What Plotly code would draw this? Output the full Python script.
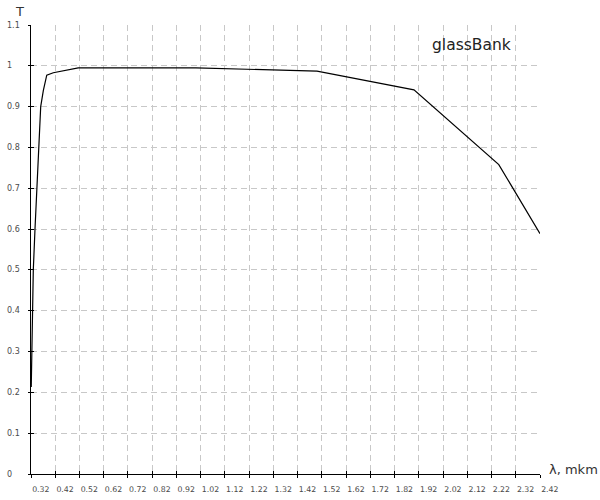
import plotly.graph_objects as go

# Data
wavelength = [0.321, 0.323, 0.325, 0.3295, 0.3365, 0.3435, 0.350, 0.360, 0.371, 0.385, 0.412,
              0.515, 1.0, 1.2, 1.4, 1.5, 1.9, 2.25, 2.42]
transmission = [0.213, 0.31, 0.40, 0.50, 0.60, 0.70, 0.80, 0.90, 0.94, 0.977, 0.983,
                 0.995, 0.995, 0.992, 0.989, 0.987, 0.941, 0.758, 0.589]

x_ticks = [0.32, 0.42, 0.52, 0.62, 0.72, 0.82, 0.92, 1.02, 1.12, 1.22, 1.32, 1.42,
           1.52, 1.62, 1.72, 1.82, 1.92, 2.02, 2.12, 2.22, 2.32, 2.42]
x_tick_labels = ["0.32", "0.42", "0.52", "0.62", "0.72", "0.82", "0.92", "1.02", "1.12", "1.22",
                 "1.32", "1.42", "1.52", "1.62", "1.72", "1.82", "1.92", "2.02", "2.12", "2.22",
                 "2.32", "2.42"]
y_ticks = [0, 0.1, 0.2, 0.3, 0.4, 0.5, 0.6, 0.7, 0.8, 0.9, 1.0, 1.1]
y_tick_labels = ["0", "0.1", "0.2", "0.3", "0.4", "0.5", "0.6", "0.7", "0.8", "0.9", "1", "1.1"]

title_text = "glassBank"
x_title = "λ, mkm"
y_title = "T"

W, H = 600, 500
L, R, T_M, B = 31, 60, 25, 26
plot_w = W - L - R

fig = go.Figure()
fig.add_trace(go.Scatter(x=wavelength, y=transmission, mode="lines",
                         line=dict(color="black", width=1.2), showlegend=False,
                         hoverinfo="skip"))

grid = dict(showgrid=True, gridcolor="#c8c8c8", gridwidth=1, griddash="6px,4px")

fig.update_layout(
    width=W, height=H,
    margin=dict(l=L, r=R, t=T_M, b=B, pad=0, autoexpand=False),
    paper_bgcolor="white", plot_bgcolor="white",
    font=dict(family="DejaVu Sans", color="#555555"),
    xaxis=dict(range=[0.32, 2.42], tickvals=x_ticks, ticktext=x_tick_labels,
               ticks="outside", ticklen=3, tickcolor="black", tickwidth=1,
               showline=True, linecolor="black", linewidth=1.3, zeroline=False,
               ticklabelposition="outside right", tickangle=0, automargin=False,
               ticklabelstandoff=7,
               tickfont=dict(size=7.8, color="#4a4a4a", family="DejaVu Sans"),
               **grid),
    yaxis=dict(range=[0, 1.1], tickvals=y_ticks, showticklabels=False,
               ticks="outside", ticklen=2, tickcolor="black", tickwidth=1,
               showline=True, linecolor="black", linewidth=1.3, zeroline=False,
               automargin=False, **grid),
    xaxis2=dict(overlaying="x", matches="x", tickvals=x_ticks, ticks="inside", ticklen=3,
                tickcolor="black", showticklabels=False, showgrid=False, showline=False,
                zeroline=False, side="bottom", anchor="y", automargin=False),
    yaxis2=dict(overlaying="y", matches="y", tickvals=y_ticks, ticks="inside", ticklen=3,
                tickcolor="black", showticklabels=False, showgrid=False, showline=False,
                zeroline=False, side="left", anchor="x", automargin=False),
)

# invisible trace to activate the overlay axes
fig.add_trace(go.Scatter(x=[wavelength[0]], y=[transmission[0]], xaxis="x2", yaxis="y2",
                         mode="markers", marker=dict(opacity=0), showlegend=False,
                         hoverinfo="skip"))

# y tick labels, left aligned at the page edge
for v, lab in zip(y_ticks, y_tick_labels):
    fig.add_annotation(x=(5 - L) / plot_w, xref="paper", y=v, yref="y", text=lab,
                       showarrow=False, xanchor="left", yanchor="middle",
                       font=dict(size=8, color="#4a4a4a", family="DejaVu Sans"))

fig.add_annotation(x=(13 - L) / plot_w, xref="paper", y=1, yref="paper", yshift=14,
                   text=y_title, showarrow=False, xanchor="left", yanchor="middle",
                   font=dict(size=13, color="#333333", family="DejaVu Sans"))
fig.add_annotation(x=1, xref="paper", xshift=7, y=0, yref="paper", text=x_title,
                   showarrow=False, xanchor="left", yanchor="middle", yshift=5,
                   font=dict(size=13, color="#333333", family="DejaVu Sans"))
fig.add_annotation(x=(430 - L) / plot_w, xref="paper", y=1.052, yref="y",
                   text=title_text, showarrow=False, xanchor="left", yanchor="middle",
                   font=dict(size=15.5, color="#222222", family="DejaVu Sans"))

fig.write_html("out.html", config={"displayModeBar": False},
               post_script="document.body.style.margin='0';document.body.style.overflow='hidden';")
